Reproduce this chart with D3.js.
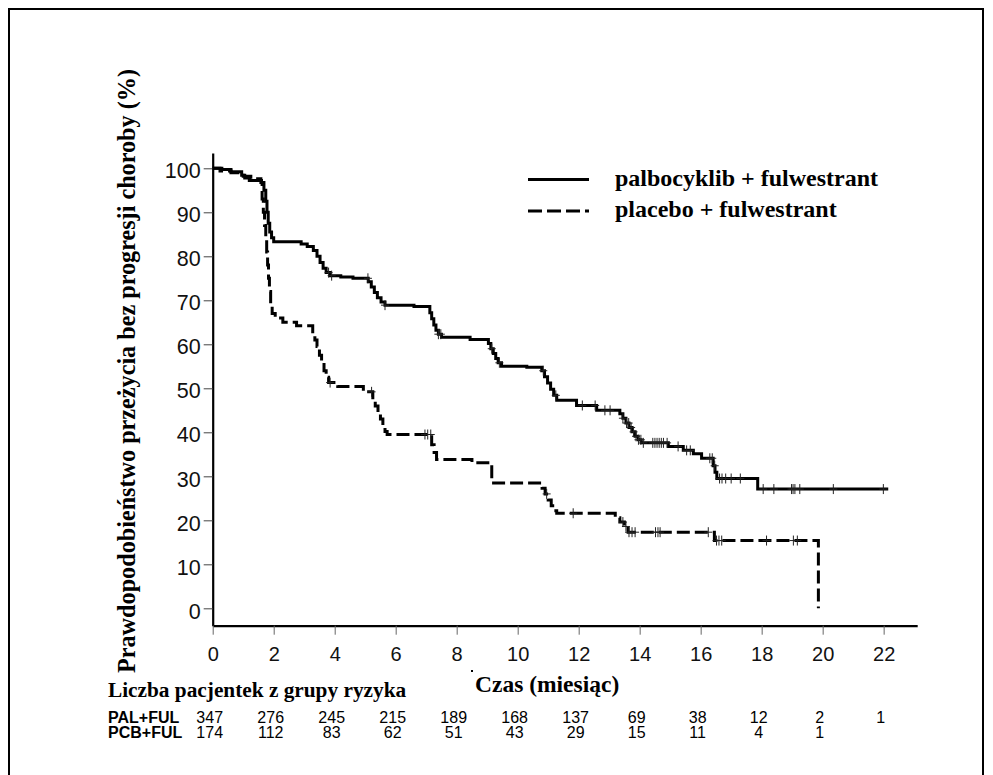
<!DOCTYPE html>
<html>
<head>
<meta charset="utf-8">
<script src="https://cdn.jsdelivr.net/npm/d3@7"></script>
<style>
  body { margin: 0; background: #fff; }
</style>
</head>
<body>
<div id="chart"></div>
<script>
// Kaplan-Meier steps (time in months, survival in %)
const palTimes = [0, 0.3, 0.6, 0.95, 1.05, 1.2, 1.6, 1.68, 1.74, 1.78, 1.82, 1.87, 1.93, 2.0, 2.9, 3.1, 3.3, 3.42, 3.52, 3.62, 3.72, 3.85, 4.2, 4.6, 5.1, 5.2, 5.3, 5.4, 5.52, 5.65, 6.6, 7.12, 7.18, 7.25, 7.32, 7.4, 7.5, 8.44, 9.04, 9.12, 9.2, 9.28, 9.36, 9.47, 10.3, 10.79, 10.88, 10.98, 11.08, 11.18, 11.28, 11.93, 12.59, 13.35, 13.45, 13.55, 13.65, 13.75, 13.85, 13.95, 14.05, 14.94, 15.43, 15.76, 16.03, 16.41, 16.47, 16.53, 17.87, 22.15];
const palSurv  = [100, 99.7, 99.2, 98.4, 97.8, 97.2, 96.8, 95, 92.5, 90, 87.5, 85.5, 84.2, 83.3, 82.8, 82.2, 81.3, 80, 78.6, 77.3, 76.3, 75.6, 75.3, 75.0, 74.2, 73.0, 71.8, 70.6, 69.6, 68.9, 68.6, 67.2, 65.8, 64.4, 63.2, 62.3, 61.6, 61.1, 60.2, 59.0, 57.9, 56.8, 55.8, 55.0, 54.8, 54.0, 52.6, 51.2, 49.8, 48.4, 47.3, 46.1, 45.0, 44.2, 43.2, 42.1, 41.1, 40.1, 39.1, 38.3, 37.6, 36.8, 35.9, 35.1, 34.1, 32.4, 30.9, 29.5, 27.1, 27.1];
const palCensor = [3.8, 3.9, 5.09, 5.65, 7.4, 7.48, 9.15, 9.4, 10.84, 11.25, 12.12, 12.54, 12.86, 13.03, 13.45, 13.57, 13.64, 13.72, 13.8, 13.88, 13.96, 14.04, 14.12, 14.43, 14.5, 14.57, 14.64, 14.71, 14.78, 14.9, 15.26, 15.54, 15.66, 16.3, 16.38, 16.46, 16.62, 16.7, 16.82, 17.0, 17.3, 18.05, 18.4, 18.98, 19.03, 19.09, 19.25, 20.35, 21.99];

const pcbTimes = [0, 0.24, 0.6, 1.0, 1.25, 1.58, 1.62, 1.66, 1.7, 1.74, 1.77, 1.8, 1.83, 1.86, 1.9, 1.95, 2.05, 2.3, 2.75, 3.28, 3.35, 3.42, 3.5, 3.57, 3.65, 3.72, 3.8, 4.1, 4.94, 5.25, 5.33, 5.42, 5.5, 5.58, 5.65, 5.72, 7.18, 7.26, 7.34, 8.5, 9.15, 10.8, 10.9, 11.0, 11.1, 11.2, 11.28, 13.2, 13.35, 13.5, 13.62, 16.45, 19.86];
const pcbSurv  = [100, 99.4, 99.0, 98.2, 97.6, 96.8, 93, 90, 87, 84, 81, 78, 75, 72, 69, 67, 66, 65, 64.2, 62.5, 61, 59.5, 57.5, 55.8, 54, 52.5, 51.3, 50.4, 49.2, 47.5, 46, 44.5, 43, 41.5, 40.2, 39.5, 37.2, 35.4, 33.8, 33.1, 28.5, 27.3, 26.0, 24.6, 23.3, 22.2, 21.6, 20.6, 19.6, 18.6, 17.3, 15.4, 0];
const pcbCensor = [3.85, 5.21, 6.96, 7.05, 7.15, 10.95, 11.82, 13.45, 13.55, 13.65, 13.75, 13.85, 14.52, 14.6, 14.67, 16.25, 16.52, 16.6, 16.69, 18.16, 19.04, 19.17];

const xTicks = [0, 2, 4, 6, 8, 10, 12, 14, 16, 18, 20, 22];
const yTicks = [0, 10, 20, 30, 40, 50, 60, 70, 80, 90, 100];

const groupNames = ["palbocyklib + fulwestrant", "placebo + fulwestrant"];
const rowNames = ["PAL+FUL", "PCB+FUL"];
const palAtRisk = [347, 276, 245, 215, 189, 168, 137, 69, 38, 12, 2, 1];
const pcbAtRisk = [174, 112, 83, 62, 51, 43, 29, 15, 11, 4, 1];

const yTitle = "Prawdopodobieństwo przeżycia bez progresji choroby (%)";
const xTitle = "Czas (miesiąc)";
const riskTitle = "Liczba pacjentek z grupy ryzyka";

const W = 993, H = 775;
const serif = "'Liberation Serif', 'Times New Roman', serif";
const sans = "'Liberation Sans', Arial, sans-serif";

const svg = d3.select("#chart").append("svg")
  .attr("width", W)
  .attr("height", H);

// frame round the whole figure
svg.append("rect")
  .attr("x", 9).attr("y", 9)
  .attr("width", 974).attr("height", 820)
  .attr("fill", "none")
  .attr("stroke", "#000")
  .attr("stroke-width", 2);

const x = d3.scaleLinear().domain([0, 23.1]).range([212.7, 917.2]);
const y = d3.scaleLinear().domain([-3.95, 103.5]).range([625.7, 152.9]);

// axes
const yAxis = svg.append("g")
  .attr("transform", "translate(" + x(0) + ",0)")
  .call(d3.axisLeft(y).tickValues(yTicks).tickSize(9).tickSizeOuter(0).tickPadding(3));
yAxis.select(".domain").attr("stroke-width", 2.2);
yAxis.selectAll(".tick line").attr("stroke", "#444");
yAxis.selectAll(".tick text")
  .attr("font-family", sans)
  .attr("font-size", 21.5)
  .attr("fill", "#111")
  .attr("dy", "0.45em");

const xAxis = svg.append("g")
  .attr("transform", "translate(0," + y.range()[0] + ")")
  .call(d3.axisBottom(x).tickValues(xTicks).tickSize(9).tickSizeOuter(0));
xAxis.select(".domain").attr("stroke-width", 2.2);
xAxis.selectAll(".tick line").attr("stroke", "#666");
xAxis.selectAll(".tick text")
  .attr("font-family", sans)
  .attr("font-size", 20)
  .attr("fill", "#111")
  .attr("y", 35)
  .attr("dy", 0);

// curves
const line = d3.line()
  .x(d => x(d[0]))
  .y(d => y(d[1]))
  .curve(d3.curveStepAfter);

const palData = palTimes.map((t, i) => [t, palSurv[i]]);
const pcbData = pcbTimes.map((t, i) => [t, pcbSurv[i]]);

svg.append("path")
  .datum(palData)
  .attr("d", line)
  .attr("fill", "none")
  .attr("stroke", "#000")
  .attr("stroke-width", 3);

svg.append("path")
  .datum(pcbData)
  .attr("d", line)
  .attr("fill", "none")
  .attr("stroke", "#000")
  .attr("stroke-width", 3)
  .attr("stroke-dasharray", "13,5");

// censoring marks sit on the curve at their time
function survAt(times, surv, t) {
  const i = d3.bisectRight(times, t) - 1;
  return surv[Math.max(0, i)];
}

function drawCensor(list, times, surv) {
  svg.append("g").selectAll("path")
    .data(list)
    .join("path")
      .attr("d", t => {
        const cx = x(t), cy = y(survAt(times, surv, t));
        return "M" + cx + "," + (cy - 5) + "V" + (cy + 5) + "M" + (cx - 4) + "," + cy + "H" + (cx + 4);
      })
      .attr("stroke", "#222")
      .attr("stroke-width", 1)
      .attr("fill", "none");
}
drawCensor(palCensor, palTimes, palSurv);
drawCensor(pcbCensor, pcbTimes, pcbSurv);

// legend
const legend = svg.append("g");
[0, 1].forEach(i => {
  const ly = 179.5 + i * 31.5;
  legend.append("line")
    .attr("x1", 528).attr("x2", 589)
    .attr("y1", ly).attr("y2", ly)
    .attr("stroke", "#000")
    .attr("stroke-width", 3)
    .attr("stroke-dasharray", i === 1 ? "14,5" : null);
  legend.append("text")
    .attr("x", 615).attr("y", ly + 6)
    .attr("font-family", serif)
    .attr("font-weight", "bold")
    .attr("font-size", 24)
    .text(groupNames[i]);
});

// axis titles
svg.append("text")
  .attr("transform", "translate(135,371) rotate(-90)")
  .attr("text-anchor", "middle")
  .attr("font-family", serif)
  .attr("font-weight", "bold")
  .attr("font-size", 24.2)
  .text(yTitle);

svg.append("text")
  .attr("x", 475).attr("y", 692)
  .attr("font-family", serif)
  .attr("font-weight", "bold")
  .attr("font-size", 23.5)
  .text(xTitle);

// stray dot left of the x title, as in the scan
svg.append("rect")
  .attr("x", 471).attr("y", 670)
  .attr("width", 2).attr("height", 2)
  .attr("fill", "#000");

// number at risk table
svg.append("text")
  .attr("x", 108).attr("y", 697)
  .attr("font-family", serif)
  .attr("font-weight", "bold")
  .attr("font-size", 21.3)
  .text(riskTitle);

[palAtRisk, pcbAtRisk].forEach((row, r) => {
  const by = 723.3 + r * 15;
  svg.append("text")
    .attr("x", 108).attr("y", by)
    .attr("font-family", sans)
    .attr("font-weight", "bold")
    .attr("font-size", 16)
    .text(rowNames[r]);
  svg.append("g").selectAll("text")
    .data(row)
    .join("text")
      .attr("x", (d, i) => x(xTicks[i]) - 3)
      .attr("y", by)
      .attr("text-anchor", "middle")
      .attr("font-family", sans)
      .attr("font-size", 16)
      .text(d => d);
});
</script>
</body>
</html>
